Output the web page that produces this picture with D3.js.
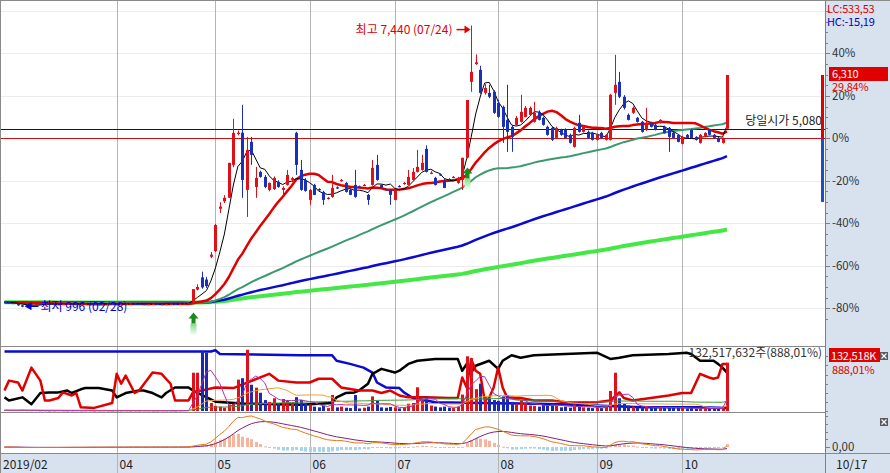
<!DOCTYPE html>
<html><head><meta charset="utf-8">
<script src="https://cdn.jsdelivr.net/npm/d3@7"></script>
<style>
body{margin:0;background:#fff;overflow:hidden;}
svg text{font-family:"Noto Sans CJK KR","DejaVu Sans",sans-serif;font-size:12px;}
svg text.ax{font-size:11.5px;}
svg text.box{font-size:11px;letter-spacing:-0.2px;}
</style></head><body>
<svg id="c" width="890" height="473"></svg>
<script>
// ---------------- DATA ----------------
const prevClose = 4860;
const todayOpen = 5080;
const limitUp = 6310, limitDown = 3405;
const lcText = "LC:533,53", hcText = "HC:-15,19";
const lastVolShares = 132517632, volChangePct = 888.01;
const highDate = "07/24", lowDate = "02/28";

// daily candles [open, high, low, close]
const candles = [
[1120,1130,1100,1110],[1110,1115,1090,1095],[1095,1100,1075,1080],[1080,1085,1030,1040],[1040,1050,996,1010],
[1010,1050,1005,1045],[1045,1065,1040,1060],[1060,1075,1055,1070],[1070,1075,1060,1065],[1065,1080,1060,1075],
[1075,1080,1065,1070],[1070,1072,1055,1060],[1060,1070,1058,1065],[1065,1075,1062,1070],[1070,1080,1068,1075],
[1075,1078,1066,1070],[1070,1072,1060,1065],[1065,1075,1062,1070],[1070,1085,1068,1080],[1080,1082,1070,1075],
[1075,1078,1066,1070],[1070,1072,1060,1065],[1065,1075,1062,1070],[1070,1080,1068,1075],[1075,1078,1066,1070],
[1070,1072,1060,1065],[1065,1075,1062,1070],[1070,1080,1068,1075],[1075,1085,1072,1080],[1080,1082,1070,1075],
[1075,1078,1066,1070],[1070,1072,1060,1065],[1065,1075,1062,1070],[1070,1080,1068,1075],[1075,1078,1066,1070],
[1070,1072,1060,1065],[1065,1075,1062,1070],[1070,1080,1068,1075],[1075,1078,1066,1070],[1070,1080,1068,1075],
[1075,1085,1072,1080],[1080,1090,1076,1085],
[1090,1410,1080,1410],[1400,1520,1380,1460],[1680,1810,1420,1450],[1630,1690,1440,1480],[2150,2260,2120,2200],
[2280,2900,2260,2880],[3250,3400,3150,3300],[3420,3560,3380,3500],[3500,4300,3500,4300],[4253,5306,4200,4986],
[4960,5040,4930,4990],[4990,5627,3499,3909],[3681,4894,3062,4597],[4780,4894,4253,4482],[3749,4208,3499,3956],
[4093,4120,3960,3979],[3979,4020,3720,3749],[3681,3850,3650,3841],[3700,3990,3680,3956],[3863,3900,3730,3749],
[3681,3760,3550,3727],[3795,4139,3780,4024],[3910,3980,3860,3950],[4986,5010,4024,4253],[4139,4367,3660,3681],
[3909,3950,3640,3658],[3452,3700,3338,3681],[3795,3820,3560,3567],[3700,3720,3660,3681],[3635,3660,3338,3452],
[3480,3520,3460,3499],[3521,4024,3500,3727],[3740,3760,3700,3715],[3880,3930,3870,3909],[3841,3860,3620,3635],
[3681,3700,3560,3567],[3795,4139,3500,3521],[3760,3780,3730,3749],[3780,3820,3770,3795],[3567,3590,3338,3452],
[3795,4367,3780,4185],[4253,4482,3890,3909],[3795,3810,3720,3727],[3700,3710,3670,3681],[3681,3700,3338,3567],
[3452,3700,3440,3681],[3770,3790,3740,3760],[3820,3860,3800,3841],[3795,4139,3780,3979],[3909,4180,3890,4093],
[4093,4597,4080,4208],[4139,4482,4120,4299],[4620,4700,4080,4093],[4060,4110,4040,4075],[3956,3980,3780,3795],
[4040,4060,4000,4024],[3909,3930,3720,3727],[3930,3950,3890,3909],[3960,4000,3950,3979],[3841,3980,3820,3956],
[3909,4420,3681,4414],[4420,5738,4400,5738],[6153,7440,5925,6382],[6560,6780,6540,6600],[6428,6521,5880,5901],
[5901,6100,5860,6014],[5901,6085,5780,5811],[5925,5960,5420,5444],[5673,5740,5330,5352],[5580,5610,4757,5123],
[5283,6085,4551,5009],[5123,5170,4551,4894],[5169,5370,5150,5329],[5238,5856,5220,5467],[5352,5600,5340,5558],
[5398,5590,5380,5558],[5238,5696,5220,5444],[5467,5500,5270,5283],[5329,5360,5150,5169],[5123,5150,4920,4940],
[5100,5130,4800,4826],[4871,5130,4850,5100],[5055,5080,4920,4940],[5055,5090,4850,4871],[4940,4970,4740,4757],
[4666,5130,4650,5100],[5215,5398,4990,5009],[5009,5150,4990,5123],[5009,5040,4850,4871],[4986,5010,4810,4826],
[4826,4970,4810,4940],[4986,5010,4850,4871],[4826,4960,4810,4940],[4826,5880,4810,5856],[5901,6771,5627,6085],
[6153,6382,5780,5811],[5811,5850,5520,5558],[5398,5430,5270,5283],[5444,5590,5420,5558],[5329,5350,5220,5238],
[5238,5260,4990,5009],[5055,5558,5030,5215],[5215,5240,5110,5123],[5169,5190,5040,5055],[5215,5300,5200,5283],
[5123,5150,4970,4986],[5100,5120,4551,4894],[4990,5010,4860,4871],[4940,4960,4770,4780],[4734,4920,4720,4894],
[4940,4960,4860,4871],[5055,5070,4860,4871],[4894,4910,4810,4826],[4757,4960,4740,4940],[4894,5000,4880,4986],
[5055,5070,4930,4940],[4940,4960,4860,4871],[4871,4890,4770,4780],[4757,4880,4740,4860],[5080,6310,5080,6310]
];

// daily volume, millions of shares
const volumes = [
2.1,1.8,1.5,2.4,3.0,1.2,0.9,1.1,0.8,1.0,0.7,0.9,1.2,0.8,0.6,0.9,1.1,0.7,0.8,1.0,
0.6,0.8,0.9,0.7,0.6,0.8,0.7,0.9,0.6,0.8,0.7,0.9,0.8,0.6,0.7,0.9,0.8,0.7,0.6,0.9,1.2,1.5,
105,105,165,160,22,14,12,9,18,20,86,90,168,72,64,50,30,25,35,22,
33,30,22,38,30,20,18,12,10,14,8,44,10,12,9,8,44,7,9,12,
40,28,10,9,11,10,7,9,20,22,65,30,40,15,12,10,12,9,8,12,
45,150,145,60,75,40,35,30,28,40,44,25,20,30,22,15,14,12,18,15,
20,14,10,12,9,18,12,10,9,8,10,8,12,55,105,35,20,15,12,10,
11,13,8,9,10,8,12,9,8,10,7,8,6,9,8,7,6,7,8,132.52
];

// volume-panel indicator lines, sampled [day index, percent of panel]
const blueIndicator = [[0,96],[46,96],[47,98],[48,92],[66,90],[73,90],[74,81],[77,76],[80,70],[82,62],[83,46],[85,38],[88,37],[89,30],[91,21],[96,14],[106,13],[124,11],[142,6],[155,6],[161,5]];
const blackIndicator = [[0,22],[1,17],[4,22],[6,11],[8,29],[10,30],[12,30],[14,33],[15,29],[17,35],[18,37],[21,37],[24,33],[25,22],[27,29],[30,33],[31,33],[33,29],[35,22],[36,29],[38,38],[41,38],[42,33],[47,15],[53,12],[66,10],[73,13],[74,22],[76,29],[78,30],[79,33],[81,44],[82,60],[84,68],[87,62],[88,65],[90,76],[92,81],[96,84],[101,84],[102,65],[103,76],[104,62],[105,73],[108,81],[110,68],[111,81],[113,90],[115,86],[118,90],[125,92],[132,94],[135,84],[137,86],[140,90],[148,92],[152,94],[153,92],[155,81],[158,81],[159,76],[160,70],[161,62]];
const redIndicator = [[0,33],[1,49],[3,46],[4,33],[6,70],[8,49],[9,17],[10,17],[12,21],[13,30],[15,25],[16,29],[17,6],[20,5],[24,13],[25,60],[26,44],[27,57],[29,29],[30,33],[33,62],[35,60],[37,44],[38,17],[41,17],[42,30],[47,38],[51,37],[59,60],[61,49],[65,46],[68,46],[70,52],[73,52],[75,38],[79,33],[82,33],[84,29],[86,33],[88,25],[90,22],[94,22],[99,21],[101,21],[102,54],[103,38],[104,84],[105,65],[106,60],[107,17],[108,21],[109,38],[110,70],[111,38],[112,22],[115,21],[118,17],[122,17],[125,14],[132,14],[135,17],[137,30],[138,21],[140,17],[148,25],[151,29],[153,29],[155,60],[157,54],[158,52],[159,54],[160,76],[161,76]];

// x-axis ticks (day index) and labels
const monthTickIdx = [0,25,47,68,87,110,132,151];
const monthTickLabels = ["2019/02","04","05","06","07","08","09","10"];
const lastDateLabel = "10/17";
const pctTicks = [-80,-60,-40,-20,0,20,40];
const buySignals = [42,103];

// ---------------- CHART ----------------
const RED = '#e0101a', BLUE = '#1a30b8', PANEL_BG = '#d8e2ee';
const svg = d3.select('#c');
const N = candles.length;
const plotR = 825;
const mainTop = 1, mainBot = 346, volTop = 347, volBot = 412, macdTop = 413, macdBot = 453;

svg.append('rect').attr('width',890).attr('height',473).attr('fill','#fff');
svg.append('rect').attr('x',plotR).attr('y',0).attr('width',890-plotR).attr('height',473).attr('fill',PANEL_BG);
svg.append('rect').attr('x',0).attr('y',macdBot).attr('width',890).attr('height',473-macdBot).attr('fill',PANEL_BG);

const defs = svg.append('defs');
[['clipMain',mainTop,mainBot],['clipVol',volTop,volBot],['clipMacd',macdTop,macdBot]].forEach(([id,t,b])=>{
  defs.append('clipPath').attr('id',id).append('rect').attr('x',1).attr('y',t).attr('width',plotR-1).attr('height',b-t);
});
const grad = defs.append('linearGradient').attr('id','sigGrad').attr('x1',0).attr('x2',0).attr('y1',0).attr('y2',1);
grad.append('stop').attr('offset','0%').attr('stop-color','#7fdc7f');
grad.append('stop').attr('offset','100%').attr('stop-color','#ffffff');

const x = d3.scaleLinear().domain([0, N-1]).range([4.5, 727]);
const yPct = d3.scaleLinear().domain([-80, 40]).range([308.3, 53.4]);
const yP = d3.scaleLinear().domain([prevClose*0.2, prevClose*1.4]).range([308.3, 53.4]);
const px = i => Math.round(x(i)) + 0.5;

const opens = candles.map(d=>d[0]), highs = candles.map(d=>d[1]), lows = candles.map(d=>d[2]), closes = candles.map(d=>d[3]);

// moving averages (days before the window taken at the first close)
function sma(vals, n){ return vals.map((v,i)=>{ let s=0; for(let k=i-n+1;k<=i;k++) s+=vals[Math.max(0,k)]; return s/n; }); }
function ema(vals, n){ const k=2/(n+1); const out=[]; vals.forEach((v,i)=>out.push(i? v*k+out[i-1]*(1-k) : v)); return out; }

// horizontal grid
svg.append('g').selectAll('line').data([-80,-60,-40,-20,0,20,40,60]).join('line')
  .attr('x1',1).attr('x2',plotR).attr('y1',d=>Math.round(yPct(d))+0.5).attr('y2',d=>Math.round(yPct(d))+0.5)
  .attr('stroke','#ececec');

// month grid lines
svg.append('g').selectAll('line').data(monthTickIdx.slice(1)).join('line')
  .attr('x1',d=>px(d)).attr('x2',d=>px(d)).attr('y1',mainTop).attr('y2',473)
  .attr('stroke','#b4b4b4');

// panel separators & frame
svg.append('g').selectAll('line').data([mainBot+0.5, volBot+0.5]).join('line')
  .attr('x1',0).attr('x2',plotR).attr('y1',d=>d).attr('y2',d=>d).attr('stroke','#8a8a8a');
svg.append('line').attr('x1',0).attr('x2',890).attr('y1',macdBot+0.5).attr('y2',macdBot+0.5).attr('stroke','#8a8a8a');
svg.append('line').attr('x1',0).attr('x2',890).attr('y1',0.5).attr('y2',0.5).attr('stroke','#8a8a8a');
svg.append('line').attr('x1',0.5).attr('x2',0.5).attr('y1',0).attr('y2',473).attr('stroke','#8a8a8a');
svg.append('line').attr('x1',plotR+0.5).attr('x2',plotR+0.5).attr('y1',0).attr('y2',473).attr('stroke','#808080');

// ---- main panel ----
const gm = svg.append('g').attr('clip-path','url(#clipMain)');
gm.append('line').attr('x1',1).attr('x2',plotR).attr('y1',Math.round(yP(prevClose))+0.5).attr('y2',Math.round(yP(prevClose))+0.5).attr('stroke','#c81010');
gm.append('line').attr('x1',1).attr('x2',plotR).attr('y1',Math.round(yP(todayOpen))+0.5).attr('y2',Math.round(yP(todayOpen))+0.5).attr('stroke','#101060');

const maDefs = [[240,'#44e844',4],[120,'#0a0ad0',2.5],[60,'#3a9a6e',2],[20,'#e00000',2.5],[5,'#000000',1]];
const line = d3.line().x((d,i)=>x(i)).y(d=>yP(d));
maDefs.forEach(([n,col,w])=>{
  gm.append('path').datum(sma(closes,n)).attr('d',line).attr('fill','none').attr('stroke',col).attr('stroke-width',w).attr('stroke-linejoin','round');
});

const cg = gm.append('g');
cg.selectAll('line').data(candles).join('line')
  .attr('x1',(d,i)=>px(i)).attr('x2',(d,i)=>px(i))
  .attr('y1',d=>yP(d[1])).attr('y2',d=>yP(d[2]))
  .attr('stroke',d=>d[3]>=d[0]?RED:BLUE);
cg.selectAll('rect').data(candles).join('rect')
  .attr('x',(d,i)=>Math.round(x(i))-1).attr('width',3)
  .attr('y',d=>Math.min(yP(d[0]),yP(d[3])))
  .attr('height',d=>Math.max(1.2,Math.abs(yP(d[0])-yP(d[3]))))
  .attr('fill',d=>d[3]>=d[0]?RED:BLUE);

// buy signal arrows
const sg = gm.append('g');
buySignals.forEach(i=>{
  const cx = px(i), top = yP(lows[i]) + 9;
  sg.append('rect').attr('x',cx-3).attr('y',top+11).attr('width',6).attr('height',12).attr('fill','url(#sigGrad)');
  sg.append('path').attr('d',`M${cx},${top} L${cx+5},${top+6} L${cx+2},${top+6} L${cx+2},${top+11} L${cx-2},${top+11} L${cx-2},${top+6} L${cx-5},${top+6} Z`).attr('fill','#1a8a1a');
});

// high / low annotations
const hiIdx = d3.maxIndex(highs), loIdx = d3.minIndex(lows);
const fmt = d3.format(',');
const hy = yP(highs[hiIdx]) + 4;
const hx = px(hiIdx) - 1;
svg.append('line').attr('x1',hx-14).attr('x2',hx-5).attr('y1',hy).attr('y2',hy).attr('stroke','#e00000').attr('stroke-width',1.5);
svg.append('path').attr('d',`M${hx},${hy} L${hx-6},${hy-4} L${hx-6},${hy+4} Z`).attr('fill','#e00000');
svg.append('text').attr('x',hx-18).attr('y',hy+4).attr('text-anchor','end').attr('fill','#e00000')
  .text(`최고 ${fmt(highs[hiIdx])} (${highDate})`);
const ly = yP(lows[loIdx]) - 1;
const lx = px(loIdx) + 2;
svg.append('path').attr('d',`M${lx},${ly} L${lx+7},${ly-4} L${lx+7},${ly+4} Z`).attr('fill','#0000d0');
svg.append('line').attr('x1',lx+6).attr('x2',lx+14).attr('y1',ly).attr('y2',ly).attr('stroke','#0000d0').attr('stroke-width',1.5);
svg.append('text').attr('x',lx+16).attr('y',ly+5).attr('fill','#0000d0')
  .text(`최저 ${fmt(lows[loIdx])} (${lowDate})`);
svg.append('text').attr('x',plotR-3).attr('y',Math.round(yP(todayOpen))-4).attr('text-anchor','end').attr('fill','#222')
  .text(`당일시가 ${fmt(todayOpen)}`);

// price-limit bar
svg.append('rect').attr('x',plotR-4).attr('y',yP(limitUp)).attr('width',3).attr('height',yP(prevClose)-yP(limitUp)).attr('fill','#e00000');
svg.append('rect').attr('x',plotR-4).attr('y',yP(prevClose)).attr('width',3).attr('height',yP(limitDown)-yP(prevClose)).attr('fill','#1a50c0');

// ---- volume panel ----
const gv = svg.append('g').attr('clip-path','url(#clipVol)');
const yV = d3.scaleLinear().domain([0,170]).range([volBot-1, volTop+2]);
const yInd = d3.scaleLinear().domain([0,100]).range([volBot-1, volTop+2]);
const indLine = d3.line().x(d=>x(d[0])).y(d=>yInd(d[1]));
[[blueIndicator,'#0a0ad0'],[blackIndicator,'#000'],[redIndicator,'#e00000']].forEach(([data,col])=>{
  gv.append('path').datum(data).attr('d',indLine).attr('fill','none').attr('stroke',col).attr('stroke-width',2.5).attr('stroke-linejoin','round');
});
gv.selectAll('rect.v').data(volumes).join('rect').attr('class','v')
  .attr('x',(d,i)=>Math.round(x(i))-1).attr('width',3)
  .attr('y',d=>yV(d)).attr('height',d=>Math.max(0.5,yV(0)-yV(d)))
  .attr('fill',(d,i)=>closes[i]>=opens[i]?RED:'#1a2ab0');
const vline = d3.line().x((d,i)=>x(i)).y(d=>yV(d));
[[60,'#3a9a3a'],[20,'#f0a030'],[5,'#b030b0']].forEach(([n,col])=>{
  gv.append('path').datum(sma(volumes,n)).attr('d',vline).attr('fill','none').attr('stroke',col).attr('stroke-width',1);
});
svg.append('text').attr('x',plotR-3).attr('y',volTop+10).attr('text-anchor','end').attr('fill','#333')
  .text(`${fmt(lastVolShares)}주(${volChangePct.toFixed(2).replace('.',',')}%)`);

// ---- MACD panel ----
const e12 = ema(closes,12), e26 = ema(closes,26);
const macd = e12.map((v,i)=>v-e26[i]);
const signal = ema(macd,9);
const osc = macd.map((v,i)=>v-signal[i]);
const yM = d3.scaleLinear().domain([0, d3.max(macd)]).range([447, 416]);
const gq = svg.append('g').attr('clip-path','url(#clipMacd)');
gq.selectAll('rect').data(osc).join('rect')
  .attr('x',(d,i)=>Math.round(x(i))-1).attr('width',3)
  .attr('y',d=>Math.min(yM(d),yM(0))).attr('height',d=>Math.max(1,Math.abs(yM(d)-yM(0))))
  .attr('fill',d=>d>=0?'#f6b49c':'#a6d4ee');
const mline = d3.line().x((d,i)=>x(i)).y(d=>yM(d));
gq.append('path').datum(signal).attr('d',mline).attr('fill','none').attr('stroke','#80207a').attr('stroke-width',1);
gq.append('path').datum(macd).attr('d',mline).attr('fill','none').attr('stroke','#e87818').attr('stroke-width',1);

// ---- right axis ----
const ax = svg.append('g');
d3.range(-85,61,5).forEach(p=>{
  const yy = Math.round(yPct(p))+0.5;
  ax.append('line').attr('x1',plotR).attr('x2',plotR+(p%20===0?5:3)).attr('y1',yy).attr('y2',yy).attr('stroke','#808080');
});
ax.selectAll('text.pct').data(pctTicks).join('text').attr('class','pct ax')
  .attr('x',plotR+7).attr('y',d=>yPct(d)+4).attr('fill','#333').text(d=>d+'%');
d3.range(0,171,25).forEach(v=>{
  const yy = Math.round(yV(v))+0.5;
  ax.append('line').attr('x1',plotR).attr('x2',plotR+3).attr('y1',yy).attr('y2',yy).attr('stroke','#808080');
});
[0,0.25,0.5,0.75,1].forEach(f=>{
  const yy = Math.round(yM(d3.max(macd)*f))+0.5;
  ax.append('line').attr('x1',plotR).attr('x2',plotR+(f===0?5:3)).attr('y1',yy).attr('y2',yy).attr('stroke','#808080');
});
ax.append('text').attr('class','ax').attr('x',plotR+7).attr('y',yM(0)+4).attr('fill','#333').text('0,00');

// LC / HC
ax.append('text').attr('class','box').attr('x',plotR+2).attr('y',13).attr('fill','#e00000').text(lcText);
ax.append('text').attr('class','box').attr('x',plotR+2).attr('y',26).attr('fill','#0000c0').text(hcText);
// last price box
const lastC = closes[N-1];
const lastY = yP(lastC);
ax.append('rect').attr('x',plotR+4).attr('y',lastY-8).attr('width',59).attr('height',14).attr('fill','#e00000');
ax.append('text').attr('class','box').attr('x',plotR+7).attr('y',lastY+3.5).attr('fill','#fff').text(fmt(lastC));
ax.append('text').attr('class','box').attr('x',plotR+7).attr('y',lastY+16).attr('fill','#e00000')
  .text(((lastC/prevClose-1)*100).toFixed(2).replace('.',',')+'%');
// volume box
ax.append('rect').attr('x',plotR+4).attr('y',volTop+1).attr('width',51).attr('height',14).attr('fill','#e00000');
ax.append('text').attr('class','box').attr('x',plotR+6).attr('y',volTop+12.5).attr('fill','#fff').text(fmt(Math.round(lastVolShares/1000))+'K');
ax.append('text').attr('class','box').attr('x',plotR+7).attr('y',volTop+27).attr('fill','#e00000').text(volChangePct.toFixed(2).replace('.',',')+'%');
// close buttons
[volTop+5, macdTop+5].forEach(yy=>{
  ax.append('rect').attr('x',880).attr('y',yy).attr('width',8).attr('height',8).attr('fill','#5a5a5a');
  ax.append('path').attr('d',`M${881.5},${yy+1.5} L${886.5},${yy+6.5} M${886.5},${yy+1.5} L${881.5},${yy+6.5}`).attr('stroke','#fff').attr('stroke-width',1.2);
});

// ---- x axis labels ----
svg.append('g').selectAll('text').data(monthTickIdx).join('text')
  .attr('x',(d,i)=> i===0 ? 3 : px(d)+2).attr('y',469).attr('fill','#222')
  .text((d,i)=>monthTickLabels[i]);
svg.append('text').attr('x',plotR+11).attr('y',469).attr('fill','#222').text(lastDateLabel);
</script>
</body></html>
